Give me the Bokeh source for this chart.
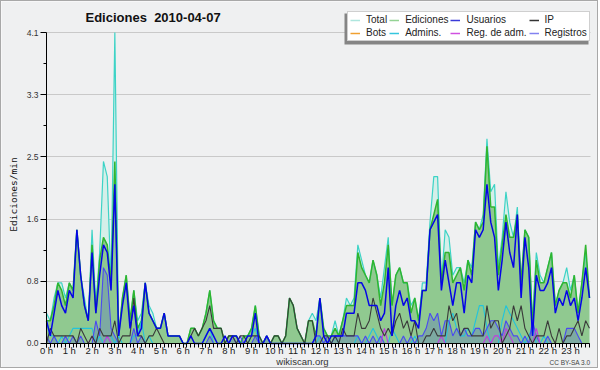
import math
from bokeh.plotting import figure
from bokeh.models import (ColumnDataSource, Range1d, FixedTicker, Label, Legend,
                          LegendItem, BoxAnnotation)
from bokeh.embed import file_html
from bokeh.resources import INLINE

# ---------------- data (edits per minute, 10-minute bins, 2010-04-07) -------------
hours = list(range(24))
hour_labels = [f"{h} h" for h in hours]

total = [
    0.4, 0.3, 0.6, 0.8, 0.8, 0.6,
    0.8, 0.7, 1.5, 0.9, 0.6, 0.3,
    1.5, 0.5, 1.2, 2.4, 2.2, 0.8,
    4.1, 0.1, 0.6, 0.9, 0.3, 0.7,
    0.3, 0.4, 0.8, 0.5, 0.4, 0.2,
    0.2, 0.4, 0.1, 0.1, 0.1, 0.1,
    0.0, 0.0, 0.2, 0.2, 0.1, 0.2,
    0.4, 0.7, 0.3, 0.2, 0.2, 0.0,
    0.1, 0.1, 0.1, 0.0, 0.1, 0.1,
    0.2, 0.5, 0.1, 0.0, 0.1, 0.0,
    0.1, 0.1, 0.0, 0.1, 0.6, 0.5,
    0.2, 0.1, 0.0, 0.3, 0.4, 0.3,
    0.6, 0.2, 0.1, 0.1, 0.3, 0.1,
    0.3, 0.6, 0.5, 0.6, 1.3, 1.1,
    0.9, 0.8, 1.1, 0.9, 0.6, 1.0,
    1.4, 0.5, 0.9, 1.0, 0.8, 0.8,
    0.5, 0.6, 0.3, 0.8, 0.8, 1.6,
    2.2, 2.2, 0.8, 1.5, 1.4, 0.9,
    1.0, 1.0, 0.8, 1.1, 1.0, 1.6,
    1.5, 1.7, 2.7, 2.0, 2.1, 1.0,
    1.4, 2.0, 1.6, 1.4, 1.8, 0.8,
    1.5, 1.4, 0.3, 1.2, 0.9, 0.8,
    1.0, 1.2, 0.5, 0.7, 0.8, 1.0,
    0.7, 0.9, 0.4, 0.8, 1.2, 0.6,
]

ediciones = [
    0.3, 0.3, 0.5, 0.8, 0.7, 0.5,
    0.8, 0.7, 1.5, 0.9, 0.5, 0.3,
    1.3, 0.4, 1.1, 1.4, 1.3, 0.8,
    2.4, 0.1, 0.6, 0.9, 0.3, 0.7,
    0.2, 0.3, 0.8, 0.4, 0.3, 0.2,
    0.2, 0.4, 0.1, 0.1, 0.1, 0.1,
    0.0, 0.0, 0.2, 0.2, 0.1, 0.2,
    0.4, 0.7, 0.3, 0.2, 0.2, 0.0,
    0.1, 0.1, 0.1, 0.0, 0.1, 0.1,
    0.2, 0.5, 0.1, 0.0, 0.1, 0.0,
    0.1, 0.1, 0.0, 0.1, 0.6, 0.5,
    0.2, 0.1, 0.0, 0.3, 0.3, 0.1,
    0.6, 0.2, 0.1, 0.1, 0.2, 0.1,
    0.3, 0.5, 0.5, 0.5, 1.2, 1.0,
    0.9, 0.8, 1.1, 0.9, 0.5, 0.8,
    1.3, 0.5, 0.9, 1.0, 0.8, 0.8,
    0.4, 0.6, 0.3, 0.7, 0.7, 1.5,
    1.7, 1.9, 0.8, 1.2, 1.2, 0.8,
    0.9, 1.0, 0.7, 1.1, 0.9, 1.6,
    1.5, 1.6, 2.6, 1.8, 1.8, 0.9,
    1.3, 1.7, 1.4, 1.4, 1.7, 0.8,
    1.5, 1.4, 0.2, 1.1, 0.8, 0.8,
    1.0, 1.2, 0.5, 0.7, 0.8, 0.8,
    0.6, 0.9, 0.4, 0.8, 1.3, 0.6,
]

usuarios = [
    0.3, 0.1, 0.4, 0.7, 0.5, 0.4,
    0.7, 0.6, 1.5, 0.9, 0.5, 0.3,
    1.2, 0.4, 0.9, 1.3, 1.2, 0.7,
    2.1, 0.1, 0.5, 0.8, 0.2, 0.5,
    0.1, 0.2, 0.8, 0.4, 0.3, 0.2,
    0.2, 0.4, 0.1, 0.1, 0.1, 0.1,
    0.0, 0.0, 0.1, 0.0, 0.0, 0.0,
    0.1, 0.2, 0.1, 0.0, 0.0, 0.1,
    0.0, 0.1, 0.1, 0.0, 0.0, 0.1,
    0.1, 0.4, 0.0, 0.0, 0.1, 0.0,
    0.0, 0.0, 0.0, 0.0, 0.0, 0.0,
    0.0, 0.0, 0.0, 0.0, 0.0, 0.1,
    0.6, 0.1, 0.0, 0.1, 0.1, 0.1,
    0.1, 0.4, 0.4, 0.4, 0.8, 0.8,
    0.7, 0.5, 0.5, 0.5, 0.3, 0.4,
    1.0, 0.1, 0.5, 0.7, 0.5, 0.6,
    0.3, 0.3, 0.2, 0.7, 0.7, 1.5,
    1.6, 1.7, 0.7, 1.1, 0.8, 0.5,
    0.8, 0.8, 0.4, 0.9, 0.8, 1.5,
    1.4, 1.5, 2.1, 1.6, 1.4, 0.7,
    1.1, 1.6, 1.2, 1.0, 1.7, 0.6,
    1.4, 1.0, 0.1, 0.9, 0.7, 0.7,
    0.8, 1.0, 0.4, 0.6, 0.5, 0.7,
    0.5, 0.6, 0.3, 0.6, 1.0, 0.6,
]

ip = [
    0.0, 0.2, 0.1, 0.1, 0.1, 0.1,
    0.1, 0.1, 0.0, 0.2, 0.1, 0.0,
    0.1, 0.0, 0.2, 0.1, 0.1, 0.1,
    0.3, 0.0, 0.1, 0.1, 0.1, 0.6,
    0.1, 0.1, 0.0, 0.1, 0.1, 0.2,
    0.1, 0.0, 0.0, 0.0, 0.0, 0.0,
    0.0, 0.0, 0.1, 0.2, 0.1, 0.2,
    0.3, 0.5, 0.2, 0.2, 0.2, 0.0,
    0.1, 0.1, 0.0, 0.1, 0.1, 0.0,
    0.1, 0.1, 0.1, 0.0, 0.0, 0.0,
    0.1, 0.1, 0.0, 0.1, 0.6, 0.5,
    0.2, 0.1, 0.0, 0.3, 0.3, 0.0,
    0.0, 0.1, 0.1, 0.0, 0.1, 0.0,
    0.2, 0.1, 0.1, 0.1, 0.4, 0.2,
    0.2, 0.3, 0.6, 0.4, 0.2, 0.1,
    0.2, 0.1, 0.3, 0.4, 0.2, 0.3,
    0.1, 0.3, 0.0, 0.0, 0.1, 0.1,
    0.2, 0.1, 0.1, 0.1, 0.5, 0.3,
    0.4, 0.1, 0.2, 0.2, 0.1, 0.1,
    0.1, 0.1, 0.5, 0.2, 0.3, 0.3,
    0.0, 0.1, 0.2, 0.5, 0.3, 0.5,
    0.2, 0.1, 0.0, 0.1, 0.1, 0.1,
    0.3, 0.1, 0.0, 0.2, 0.0, 0.1,
    0.1, 0.2, 0.3, 0.1, 0.3, 0.2,
]

admins = [
    0.3, 0.1, 0.1, 0.0, 0.1, 0.0,
    0.1, 0.2, 0.2, 0.2, 0.2, 0.2,
    0.2, 0.0, 0.1, 0.0, 0.1, 0.1,
    0.0, 0.1, 0.0, 0.0, 0.0, 0.1,
    0.1, 0.3, 0.0, 0.1, 0.0, 0.0,
    0.0, 0.0, 0.0, 0.0, 0.0, 0.0,
    0.0, 0.0, 0.0, 0.0, 0.0, 0.0,
    0.1, 0.2, 0.0, 0.0, 0.0, 0.0,
    0.0, 0.0, 0.0, 0.0, 0.0, 0.0,
    0.1, 0.2, 0.0, 0.0, 0.0, 0.0,
    0.0, 0.0, 0.0, 0.0, 0.0, 0.0,
    0.0, 0.0, 0.0, 0.0, 0.0, 0.0,
    0.1, 0.0, 0.0, 0.0, 0.1, 0.0,
    0.0, 0.0, 0.0, 0.0, 0.1, 0.0,
    0.0, 0.1, 0.2, 0.1, 0.0, 0.0,
    0.0, 0.2, 0.1, 0.0, 0.0, 0.0,
    0.0, 0.1, 0.0, 0.0, 0.0, 0.0,
    0.0, 0.0, 0.0, 0.0, 0.3, 0.4,
    0.2, 0.1, 0.1, 0.2, 0.1, 0.3,
    0.5, 0.5, 0.2, 0.0, 0.0, 0.0,
    0.3, 0.5, 0.4, 0.3, 0.2, 0.1,
    0.0, 0.1, 0.2, 0.0, 0.0, 0.1,
    0.0, 0.0, 0.0, 0.0, 0.0, 0.0,
    0.0, 0.0, 0.0, 0.0, 0.0, 0.0,
]

registros = [
    0.1, 0.0, 0.1, 0.0, 0.0, 0.1,
    0.0, 0.1, 0.0, 0.1, 0.0, 0.0,
    0.0, 0.3, 0.1, 1.0, 0.9, 0.2,
    0.1, 0.0, 0.0, 0.0, 0.0, 0.2,
    0.0, 0.1, 0.0, 0.0, 0.0, 0.0,
    0.0, 0.0, 0.0, 0.0, 0.0, 0.0,
    0.0, 0.0, 0.0, 0.0, 0.0, 0.0,
    0.0, 0.1, 0.0, 0.0, 0.0, 0.0,
    0.0, 0.1, 0.0, 0.1, 0.0, 0.0,
    0.0, 0.1, 0.0, 0.0, 0.1, 0.0,
    0.0, 0.0, 0.0, 0.0, 0.0, 0.0,
    0.0, 0.0, 0.0, 0.0, 0.0, 0.1,
    0.1, 0.0, 0.1, 0.0, 0.1, 0.1,
    0.1, 0.1, 0.1, 0.1, 0.1, 0.0,
    0.1, 0.0, 0.1, 0.0, 0.1, 0.0,
    0.0, 0.0, 0.0, 0.0, 0.1, 0.0,
    0.1, 0.0, 0.1, 0.1, 0.2, 0.4,
    0.3, 0.4, 0.1, 0.3, 0.3, 0.1,
    0.2, 0.1, 0.2, 0.1, 0.1, 0.2,
    0.2, 0.1, 0.2, 0.3, 0.3, 0.2,
    0.1, 0.3, 0.2, 0.1, 0.1, 0.0,
    0.1, 0.0, 0.3, 0.1, 0.0, 0.0,
    0.1, 0.0, 0.0, 0.0, 0.0, 0.2,
    0.2, 0.2, 0.1, 0.0, 0.0, 0.0,
]

reg_adm = [
    0.0, 0.0, 0.0, 0.0, 0.0, 0.0,
    0.0, 0.0, 0.0, 0.0, 0.0, 0.0,
    0.1, 0.0, 0.0, 0.0, 0.1, 0.0,
    0.0, 0.0, 0.0, 0.0, 0.0, 0.0,
    0.0, 0.0, 0.0, 0.0, 0.0, 0.0,
    0.0, 0.0, 0.0, 0.0, 0.0, 0.0,
    0.0, 0.0, 0.0, 0.0, 0.0, 0.0,
    0.0, 0.0, 0.0, 0.0, 0.0, 0.0,
    0.0, 0.0, 0.0, 0.0, 0.0, 0.0,
    0.0, 0.0, 0.0, 0.0, 0.0, 0.0,
    0.0, 0.0, 0.0, 0.0, 0.0, 0.0,
    0.0, 0.0, 0.0, 0.0, 0.0, 0.0,
    0.0, 0.0, 0.0, 0.0, 0.0, 0.0,
    0.0, 0.0, 0.0, 0.0, 0.0, 0.0,
    0.0, 0.0, 0.0, 0.0, 0.0, 0.2,
    0.0, 0.0, 0.0, 0.0, 0.0, 0.0,
    0.0, 0.0, 0.0, 0.0, 0.0, 0.0,
    0.0, 0.0, 0.1, 0.0, 0.0, 0.0,
    0.0, 0.0, 0.0, 0.0, 0.0, 0.0,
    0.0, 0.0, 0.1, 0.0, 0.1, 0.1,
    0.0, 0.2, 0.1, 0.0, 0.0, 0.0,
    0.0, 0.0, 0.0, 0.2, 0.0, 0.0,
    0.0, 0.0, 0.0, 0.0, 0.0, 0.0,
    0.0, 0.0, 0.0, 0.0, 0.0, 0.0,
]

y_ticks = [0.0, 0.82, 1.64, 2.46, 3.28, 4.1]
y_tick_labels = ["0.0", "0.8", "1.6", "2.5", "3.3", "4.1"]
y_minor = [0.41, 1.23, 2.05, 2.87, 3.69]

legend_names = ["Total", "Ediciones", "Usuarios", "IP",
                "Bots", "Admins.", "Reg. de adm.", "Registros"]
legend_colors = ["#aee6de", "#94d394", "#3a3ad8", "#333333",
                 "#f0a030", "#35c6de", "#d050e0", "#8282f0"]

# ---------------- figure ----------------
steps_per_hour = 6
n = len(ediciones)
xs = list(range(n))
src = ColumnDataSource(dict(x=xs, total=total, ed=ediciones, us=usuarios, ip=ip,
                            adm=admins, reg=registros, radm=reg_adm))

W, H = 598, 368
BG = "#eff0f1"
p = figure(width=W, height=H, output_backend="svg", toolbar_location=None,
           x_range=Range1d(-11.85, 145.64), y_range=Range1d(-0.3428, 4.509),
           min_border_left=0, min_border_right=0, min_border_top=0,
           min_border_bottom=0,
           background_fill_color=BG, border_fill_color=BG,
           outline_line_color=None,
           styles={"border": "1px solid #a8a8a8"})
p.title.visible = False

# areas
p.varea(x="x", y1=0, y2="total", source=src, fill_color="#d5efe9", fill_alpha=1)
p.varea(x="x", y1=0, y2="ed", source=src, fill_color="#90c990", fill_alpha=1)
p.varea(x="x", y1=0, y2="reg", source=src, fill_color="#4a5ad0", fill_alpha=0.28)

# lines
p.line("x", "total", source=src, line_color="#3dd3c6", line_width=1.2)
p.line("x", "ed", source=src, line_color="#2fb52f", line_width=1.5)
p.line("x", "adm", source=src, line_color="#22c4dc", line_width=1.1)
p.line("x", "reg", source=src, line_color="#4a4af0", line_width=1.1)
p.line("x", "radm", source=src, line_color="#c03ce0", line_width=1.1)
p.line("x", "ip", source=src, line_color="#3a3a3a", line_width=1.1)
p.line("x", "us", source=src, line_color="#0505e6", line_width=1.5)

# axes (drawn at the data origin)
xa = p.xaxis[0]
xa.fixed_location = 0
xa.ticker = FixedTicker(ticks=[h * steps_per_hour for h in hours], minor_ticks=xs)
xa.major_label_overrides = {h * steps_per_hour: lab for h, lab in zip(hours, hour_labels)}
xa.bounds = (0, n - 1)
xa.major_tick_out = 4
xa.major_tick_in = 0
xa.minor_tick_out = 4
xa.minor_tick_in = 0
xa.major_label_standoff = -2
xa.major_label_text_font = "Liberation Sans"
xa.major_label_text_font_size = "9.5px"
xa.major_label_text_color = "#222222"
xa.axis_line_color = "black"
xa.major_tick_line_color = "black"
xa.minor_tick_line_color = "black"

ya = p.yaxis[0]
ya.fixed_location = 0
ya.ticker = FixedTicker(ticks=y_ticks, minor_ticks=y_minor)
ya.major_label_overrides = {t: lab for t, lab in zip(y_ticks, y_tick_labels)}
ya.bounds = (0, 4.1)
ya.major_tick_out = 6
ya.major_tick_in = 0
ya.minor_tick_out = 3
ya.minor_tick_in = 0
ya.major_label_standoff = 2
ya.major_label_text_font = "Liberation Sans"
ya.major_label_text_font_size = "8.5px"
ya.major_label_text_color = "#333333"

p.xgrid.visible = False
yg = p.ygrid[0]
yg.ticker = FixedTicker(ticks=y_ticks[1:])
yg.grid_line_color = "#c9c9c9"
yg.grid_line_width = 1
if "cross_bounds" in yg.properties():
    yg.cross_bounds = (0, 143.2)

# y-axis title, chart title and footer texts (screen units from frame bottom-left)
p.add_layout(Label(x=12, y=175, x_units="screen", y_units="screen", angle=math.pi / 2,
                   text="Ediciones/min", text_font="DejaVu Sans Mono",
                   text_font_size="9.5px", text_baseline="middle",
                   text_align="center", text_color="#111111"))
p.add_layout(Label(x=84, y=352, x_units="screen", y_units="screen",
                   text="Ediciones\u00a0 2010-04-07", text_font="Liberation Sans",
                   text_font_style="bold", text_font_size="13px",
                   text_baseline="middle", text_align="left", text_color="#111111"))
p.add_layout(Label(x=301, y=8, x_units="screen", y_units="screen",
                   text="wikiscan.org", text_font="Liberation Sans",
                   text_font_size="9.5px", text_baseline="middle",
                   text_align="center", text_color="#333333"))
p.add_layout(Label(x=589, y=7, x_units="screen", y_units="screen",
                   text="CC BY-SA 3.0", text_font="Liberation Sans",
                   text_font_size="6.5px", text_baseline="middle",
                   text_align="right", text_color="#444444"))

# legend (shadow + box)
p.add_layout(BoxAnnotation(left=343, right=587, bottom=325, top=356,
                           left_units="screen", right_units="screen",
                           bottom_units="screen", top_units="screen",
                           fill_color="#858585", fill_alpha=1, line_color=None))
items = []
for name, col in zip(legend_names, legend_colors):
    r = p.line(x=[0], y=[float("nan")], line_color=col, line_width=1.5)
    items.append(LegendItem(label=name, renderers=[r]))
legend = Legend(items=items, location=(346, 328), orientation="horizontal", ncols=4,
                glyph_width=10, glyph_height=10, label_height=10, label_standoff=6,
                spacing=2, padding=2, margin=0,
                label_text_font="Liberation Sans", label_text_font_size="10px",
                label_text_color="#222222",
                border_line_color="#a0a0a0", border_line_width=1,
                background_fill_color="white", background_fill_alpha=1)
p.add_layout(legend, "center")

open("out.html", "w").write(file_html(p, INLINE))
